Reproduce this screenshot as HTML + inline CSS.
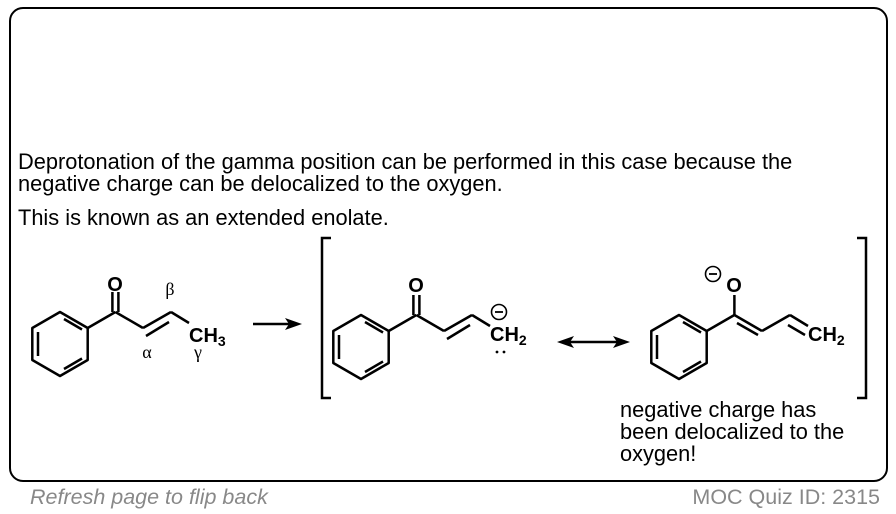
<!DOCTYPE html>
<html><head><meta charset="utf-8"><style>
body{margin:0;width:896px;height:514px;background:#fff;font-family:"Liberation Sans",Arial,sans-serif;overflow:hidden;position:relative}
.box{position:absolute;left:9px;top:7px;width:875px;height:471px;border:2.5px solid #000;border-radius:14px}
.t{position:absolute;font-size:21.8px;color:#000;white-space:nowrap;line-height:22px}
.f{position:absolute;font-size:21.5px;color:#888;top:485px}
</style></head><body>
<div class="box"></div>
<div class="t" style="left:18px;top:151px">Deprotonation of the gamma position can be performed in this case because the</div>
<div class="t" style="left:18px;top:173px">negative charge can be delocalized to the oxygen.</div>
<div class="t" style="left:18px;top:207px">This is known as an extended enolate.</div>
<div class="t" style="left:620px;top:399px">negative charge has<br>been delocalized to the<br>oxygen!</div>
<div class="f" style="left:30px;font-style:italic">Refresh page to flip back</div>
<div class="f" style="right:16px">MOC Quiz ID: 2315</div>
<svg width="896" height="514" style="position:absolute;left:0;top:0" font-family="Liberation Sans,Arial,sans-serif">
<defs>
<g id="bz" stroke="#000" stroke-width="2.5" fill="none" stroke-linejoin="round">
<polygon points="0,-32 27.7,-16 27.7,16 0,32 -27.7,16 -27.7,-16"/>
<line x1="4" y1="-25" x2="22" y2="-14.5"/>
<line x1="22" y1="14.5" x2="4" y2="25"/>
<line x1="-22" y1="12" x2="-22" y2="-12"/>
<line x1="27.7" y1="-16" x2="55.4" y2="-32"/>
</g>
</defs>
<!-- molecule 1 -->
<g transform="translate(60,344)">
<use href="#bz"/>
<g stroke="#000" stroke-width="2.5" fill="none">
<line x1="55.4" y1="-32" x2="83" y2="-16"/>
<line x1="83" y1="-16" x2="111" y2="-32"/>
<line x1="86" y1="-8" x2="109" y2="-22"/>
<line x1="111" y1="-32" x2="129" y2="-21"/>
<line x1="52.4" y1="-32" x2="52.4" y2="-52"/><line x1="58.4" y1="-32" x2="58.4" y2="-52"/>
</g>
</g>
<text x="115" y="291" font-size="20" font-weight="bold" text-anchor="middle">O</text>
<text x="189" y="342" font-size="20" font-weight="bold">CH<tspan font-size="14" dy="4">3</tspan></text>
<text x="170" y="295" font-size="18" font-family="Liberation Serif,serif" text-anchor="middle">β</text>
<text x="147" y="358" font-size="18" font-family="Liberation Serif,serif" text-anchor="middle">α</text>
<text x="198" y="358" font-size="18" font-family="Liberation Serif,serif" text-anchor="middle">γ</text>
<!-- arrow -->
<line x1="253" y1="324" x2="290" y2="324" stroke="#000" stroke-width="2.5"/>
<polygon points="302,324 285,318 289,324 285,330" fill="#000"/>
<!-- brackets -->
<path d="M331,238 H322 V398 H331" stroke="#000" stroke-width="2.5" fill="none"/>
<path d="M857,238 H866 V398 H857" stroke="#000" stroke-width="2.5" fill="none"/>
<!-- molecule 2 -->
<g transform="translate(361,347)">
<use href="#bz"/>
<g stroke="#000" stroke-width="2.5" fill="none">
<line x1="55.4" y1="-32" x2="83" y2="-16"/>
<line x1="83" y1="-16" x2="111" y2="-32"/>
<line x1="86" y1="-8" x2="109" y2="-22"/>
<line x1="111" y1="-32" x2="129" y2="-21"/>
<line x1="52.4" y1="-32" x2="52.4" y2="-52"/><line x1="58.4" y1="-32" x2="58.4" y2="-52"/>
</g>
</g>
<text x="416" y="292" font-size="20" font-weight="bold" text-anchor="middle">O</text>
<text x="490" y="341" font-size="20" font-weight="bold">CH<tspan font-size="14" dy="4">2</tspan></text>
<circle cx="499" cy="312" r="7.5" stroke="#000" stroke-width="1.6" fill="none"/>
<line x1="495" y1="312" x2="503" y2="312" stroke="#000" stroke-width="1.8"/>
<circle cx="497" cy="352" r="1.4" fill="#000"/><circle cx="504" cy="352" r="1.4" fill="#000"/>
<!-- double arrow -->
<line x1="570" y1="342" x2="617" y2="342" stroke="#000" stroke-width="2.5"/>
<polygon points="557,342 574,336 570,342 574,348" fill="#000"/>
<polygon points="630,342 613,336 617,342 613,348" fill="#000"/>
<!-- molecule 3 -->
<g transform="translate(679,347)">
<use href="#bz"/>
<g stroke="#000" stroke-width="2.5" fill="none">
<line x1="55.4" y1="-32" x2="83" y2="-16"/>
<line x1="58" y1="-24" x2="79" y2="-12"/>
<line x1="83" y1="-16" x2="111" y2="-32"/>
<line x1="111" y1="-32" x2="129" y2="-21"/>
<line x1="109" y1="-22" x2="126" y2="-12"/>
<line x1="55.4" y1="-32" x2="55.4" y2="-52"/>
</g>
</g>
<text x="734" y="292" font-size="20" font-weight="bold" text-anchor="middle">O</text>
<circle cx="713" cy="274" r="7.5" stroke="#000" stroke-width="1.6" fill="none"/>
<line x1="709" y1="274" x2="717" y2="274" stroke="#000" stroke-width="1.8"/>
<text x="808" y="341" font-size="20" font-weight="bold">CH<tspan font-size="14" dy="4">2</tspan></text>
</svg>
</body></html>
